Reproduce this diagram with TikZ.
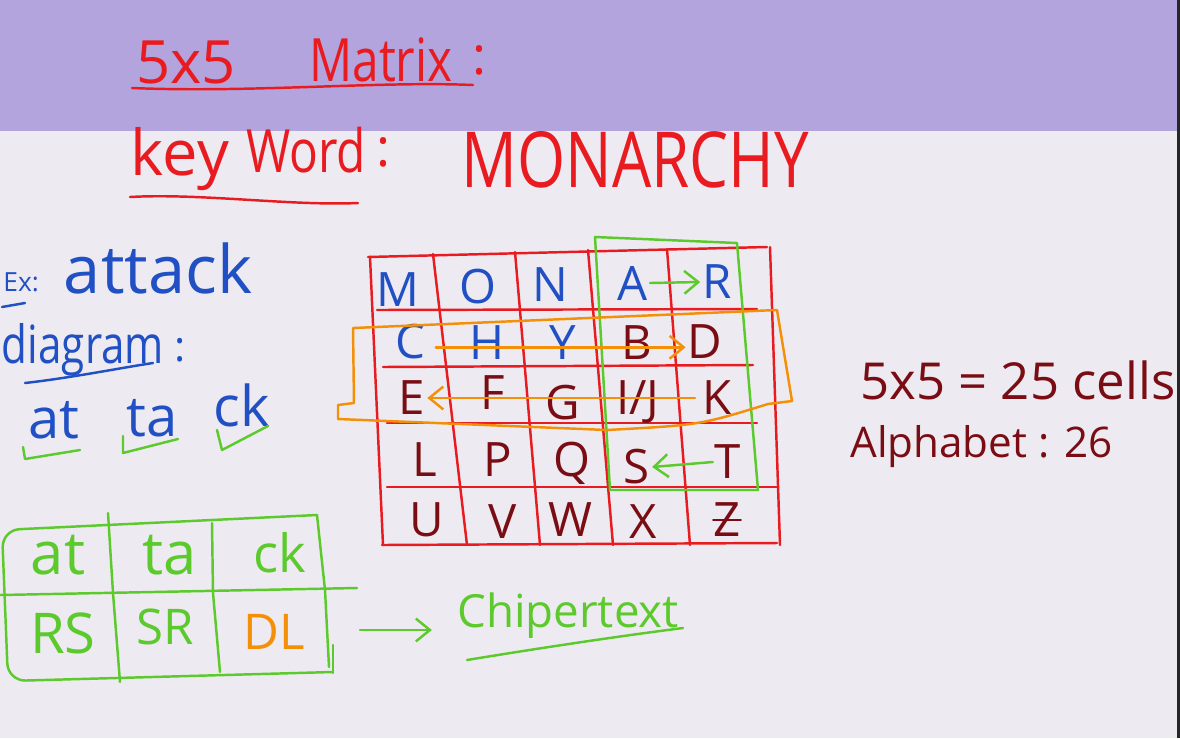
\documentclass[tikz,border=0pt]{standalone}
\usepackage{fontspec}
\setmainfont{Open Sans}
\newfontfamily\narrowhand{Open Sans}[FakeStretch=0.8]
\usetikzlibrary{arrows.meta}
\definecolor{board}{RGB}{237,235,241}
\definecolor{band}{RGB}{180,164,221}
\definecolor{pred}{RGB}{232,28,32}
\definecolor{pblue}{RGB}{32,80,196}
\definecolor{pgreen}{RGB}{92,202,44}
\definecolor{porange}{RGB}{244,144,8}
\definecolor{pmaroon}{RGB}{122,12,20}
\newcommand{\fs}[1]{\fontsize{#1}{#1}\selectfont}

\begin{document}
\begin{tikzpicture}[
    % unidades em pixels da lousa
    x=0.02cm, y=-0.02cm,
    % Estilos
    pen/.style={line width=1.4pt, line cap=round, line join=round},
    cell/.style={inner sep=1pt, font=\fs{27}},
    word/.style={inner sep=0pt},
    barb/.style={-{Straight Barb[length=8pt, width=13pt, line width=1.4pt]}}
  ]
  \useasboundingbox (0,0) rectangle (1180,738);
  \fill[board] (0,0) rectangle (1180,738);
  \fill[band] (0,0) rectangle (1180,131);
  \fill[black!85] (1177,0) rectangle (1180,738);

  % Titulo
  \node[word, text=pred, font=\fs{34}] (five) at (186,62) {5x5};
  \node[word, text=pred, font=\narrowhand\fs{34}] (matrix) at (381,60) {Matrix};
  \node[word, text=pred, font=\fs{30}] (colA) at (480,60) {:};
  \draw[pen, pred] (132,88) .. controls (250,93) and (380,81) .. (473,85);

  \node[word, text=pred, font=\fs{36}] (key) at (180,159) {key};
  \node[word, text=pred, font=\narrowhand\fs{34}] (wordk) at (306,150) {Word};
  \node[word, text=pred, font=\fs{30}] (colB) at (384,152) {:};
  \node[word, text=pred, font=\narrowhand\fs{44}] (monarchy) at (635,160) {MONARCHY};
  \draw[pen, pred] (130,197) .. controls (200,193) and (290,206) .. (358,203);

  % Exemplo
  \node[word, text=pblue, font=\fs{15}, anchor=west] (ex) at (3,282) {Ex:};
  \draw[pen, pblue] (2,307) -- (25,303);
  \node[word, text=pblue, font=\fs{38}] (attack) at (158,268) {attack};
  \node[word, text=pblue, font=\narrowhand\fs{30}] (diagram) at (83,350) {diagram};
  \node[word, text=pblue, font=\fs{24}] (colC) at (180,350) {:};
  \draw[pen, pblue] (25,383) .. controls (70,378) and (120,368) .. (153,363);

  \node[word, text=pblue, font=\fs{32}] (pAt) at (54,420) {at};
  \node[word, text=pblue, font=\fs{32}] (pTa) at (152,418) {ta};
  \node[word, text=pblue, font=\fs{32}] (pCk) at (242,405) {ck};
  \draw[pen, pgreen] (23,447) -- (25,459) -- (80,450);
  \draw[pen, pgreen] (123,436) -- (123,453) -- (178,439);
  \draw[pen, pgreen] (217,430) -- (222,450) -- (268,426);

  % Matriz 5x5
  \foreach \xa/\ya/\xb/\yb in {368/257/767/247, 377/310/757/309, 383/367/753/365,
      387/423/757/423, 387/487/778/487, 382/545/777/543}
    \draw[pen, pred] (\xa,\ya) -- (\xb,\yb);
  \foreach \xa/\ya/\xb in {370/257/383, 433/254/467, 515/252/540, 588/250/613,
      667/249/690, 770/247/780}
    \draw[pen, pred] (\xa,\ya) -- (\xb,545);

  \foreach \n/\px/\py/\c in {M/398/290/pblue, O/478/287/pblue, N/550/285/pblue,
      A/633/283/pblue, R/717/282/pblue,
      C/410/342/pblue, H/487/343/pblue, Y/563/343/pblue, B/637/343/pmaroon, D/705/342/pmaroon,
      E/412/398/pmaroon, F/493/393/pmaroon, G/563/403/pmaroon, K/717/398/pmaroon,
      L/425/460/pmaroon, P/498/460/pmaroon, Q/572/463/pmaroon, S/637/467/pmaroon, T/728/462/pmaroon,
      U/427/520/pmaroon, V/503/522/pmaroon, W/570/520/pmaroon, X/643/522/pmaroon, Z/727/520/pmaroon}
    \node[cell, text=\c] (c\n) at (\px,\py) {\n};
  \node[cell, text=pmaroon] (cIJ) at (638,402) {I/J};
  \draw[pen, pmaroon, line width=1.2pt] ([xshift=1pt]cZ.west) -- ([xshift=-1pt]cZ.east);

  % Regras: mesma coluna / mesma linha
  \draw[pen, pgreen] (595,237) -- (737,243) -- (758,490) -- (610,490) -- cycle;
  \draw[pen, porange] (353,328) -- (777,310) -- (792,401) -- (768,404)
    .. controls (700,425) .. (607,430) -- (338,419) -- (338,405) -- (354,403) -- cycle;

  \draw[pen, pgreen, barb] (cA.east) -- (cR.west);
  \draw[pen, pgreen, barb] (cT.west) -- (cS.east);
  \draw[pen, porange, barb] ([xshift=5pt,yshift=-3pt]cC.east) -- ([yshift=-3pt]cD.west);
  \draw[pen, porange, barb] ([xshift=-3pt]cK.west) -- (cE.east);

  % Tabela do resultado
  \draw[pen, pgreen, rounded corners=10pt] (333,672) -- (8,681) -- (2,530) -- (317,515);
  \draw[pen, pgreen] (317,515) -- (325,590) -- (329,667);
  \draw[pen, pgreen] (333,645) -- (333,673);
  \draw[pen, pgreen] (0,595) -- (357,588);
  \draw[pen, pgreen] (108,513) -- (113,593) -- (120,682);
  \draw[pen, pgreen] (212,523) -- (213,593) -- (220,672);

  \node[word, text=pgreen, font=\fs{34}] (tAt) at (58,555) {at};
  \node[word, text=pgreen, font=\fs{34}] (tTa) at (170,555) {ta};
  \node[word, text=pgreen, font=\fs{30}] (tCk) at (280,553) {ck};
  \node[word, text=pgreen, font=\fs{32}] (tRS) at (63,633) {RS};
  \node[word, text=pgreen, font=\fs{28}] (tSR) at (165,627) {SR};
  \node[word, text=porange, font=\fs{28}] (tDL) at (274,632) {DL};

  \coordinate (tblout) at (360,630);
  \node[word, text=pgreen, font=\fs{26}] (cipher) at (568,616) {Chipertext};
  \draw[pen, pgreen, barb, shorten >=0.5cm] (tblout) -- (tblout -| cipher.west);
  \draw[pen, pgreen] (467,660) .. controls (540,648) and (620,636) .. (683,628);

  % Observacoes
  \node[word, text=pmaroon, font=\fs{29}, anchor=west] (cells) at (860,380) {5x5 = 25 cells};
  \node[word, text=pmaroon, font=\fs{24}, anchor=west] (alpha) at (850,447) {Alphabet : 26};
\end{tikzpicture}
\end{document}
